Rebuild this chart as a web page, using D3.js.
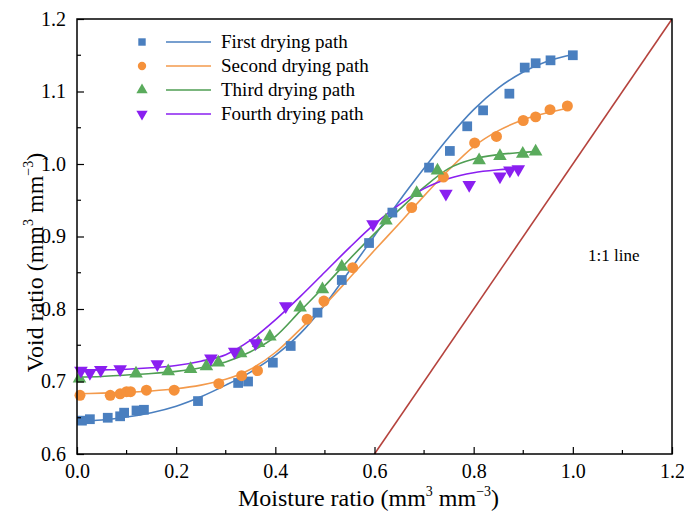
<!DOCTYPE html>
<html>
<head>
    <meta charset="utf-8">
    <title>Void ratio vs moisture ratio</title>
    <script src="https://d3js.org/d3.v7.min.js"></script>
    <style>
        body { margin: 0; background: #fff; }
        text { font-family: "Liberation Serif", "Times New Roman", serif; fill: #000; }
    </style>
</head>
<body>
    <div id="chart"></div>

    <script>
        var firstX  = [0.010, 0.026, 0.062, 0.087, 0.095, 0.120, 0.135, 0.244, 0.325, 0.345, 0.395, 0.431, 0.485, 0.534, 0.589, 0.636, 0.710, 0.752, 0.787, 0.819, 0.872, 0.903, 0.925, 0.955, 1.000];
        var firstY  = [0.646, 0.648, 0.650, 0.652, 0.657, 0.660, 0.661, 0.673, 0.698, 0.700, 0.726, 0.749, 0.795, 0.840, 0.891, 0.933, 0.995, 1.018, 1.052, 1.074, 1.097, 1.133, 1.139, 1.143, 1.150];
        var secondX = [0.006, 0.067, 0.087, 0.100, 0.108, 0.140, 0.196, 0.286, 0.332, 0.364, 0.464, 0.498, 0.556, 0.675, 0.739, 0.802, 0.846, 0.900, 0.925, 0.954, 0.989];
        var secondY = [0.681, 0.681, 0.683, 0.686, 0.686, 0.688, 0.688, 0.697, 0.708, 0.715, 0.786, 0.811, 0.857, 0.940, 0.982, 1.029, 1.038, 1.060, 1.065, 1.075, 1.080];
        var thirdX  = [0.005, 0.119, 0.184, 0.229, 0.261, 0.285, 0.330, 0.366, 0.389, 0.450, 0.495, 0.534, 0.623, 0.685, 0.727, 0.811, 0.853, 0.899, 0.925];
        var thirdY  = [0.704, 0.711, 0.714, 0.717, 0.721, 0.726, 0.739, 0.753, 0.762, 0.802, 0.827, 0.858, 0.922, 0.960, 0.991, 1.005, 1.011, 1.014, 1.017];
        var fourthX = [0.008, 0.026, 0.048, 0.087, 0.162, 0.270, 0.318, 0.360, 0.421, 0.597, 0.744, 0.791, 0.853, 0.873, 0.890];
        var fourthY = [0.715, 0.712, 0.716, 0.717, 0.724, 0.732, 0.741, 0.753, 0.804, 0.917, 0.959, 0.971, 0.983, 0.991, 0.993];

        // fitted curves
        var firstFitX  = [0, 0.05, 0.1, 0.15, 0.2, 0.25, 0.3, 0.35, 0.4, 0.45, 0.5, 0.55, 0.6, 0.65, 0.7, 0.75, 0.8, 0.85, 0.9, 0.95, 1.0];
        var firstFitY  = [0.645, 0.647, 0.651, 0.657, 0.666, 0.679, 0.695, 0.713, 0.736, 0.766, 0.806, 0.853, 0.901, 0.949, 0.994, 1.037, 1.075, 1.105, 1.127, 1.142, 1.151];
        var secondFitX = [0, 0.05, 0.1, 0.15, 0.2, 0.25, 0.3, 0.35, 0.4, 0.45, 0.5, 0.55, 0.6, 0.65, 0.7, 0.75, 0.8, 0.85, 0.9, 0.95, 0.99];
        var secondFitY = [0.683, 0.684, 0.685, 0.687, 0.690, 0.695, 0.703, 0.717, 0.740, 0.772, 0.806, 0.843, 0.881, 0.918, 0.956, 0.992, 1.024, 1.046, 1.061, 1.071, 1.077];
        var thirdFitX  = [0, 0.05, 0.1, 0.15, 0.2, 0.25, 0.3, 0.35, 0.4, 0.45, 0.5, 0.55, 0.6, 0.65, 0.7, 0.75, 0.8, 0.85, 0.9, 0.92];
        var thirdFitY  = [0.706, 0.707, 0.709, 0.711, 0.714, 0.719, 0.727, 0.741, 0.762, 0.797, 0.832, 0.869, 0.904, 0.937, 0.968, 0.994, 1.007, 1.013, 1.016, 1.017];
        var fourthFitX = [0, 0.05, 0.1, 0.15, 0.2, 0.25, 0.3, 0.35, 0.4, 0.45, 0.5, 0.55, 0.6, 0.65, 0.7, 0.75, 0.8, 0.85, 0.89];
        var fourthFitY = [0.715, 0.716, 0.717, 0.719, 0.722, 0.728, 0.737, 0.757, 0.785, 0.817, 0.851, 0.885, 0.917, 0.944, 0.966, 0.980, 0.988, 0.992, 0.994];

        var oneToOne = [0.6, 1.2];
        var xTicks = [0, 0.2, 0.4, 0.6, 0.8, 1.0, 1.2];
        var yTicks = [0.6, 0.7, 0.8, 0.9, 1.0, 1.1, 1.2];
        var names = ["First drying path", "Second drying path", "Third drying path", "Fourth drying path"];

        var series = [
            { name: names[0], x: firstX,  y: firstY,  fx: firstFitX,  fy: firstFitY,  color: "#4a7fbf", line: "#4a7fbf", sym: d3.symbolSquare,   rot: 0 },
            { name: names[1], x: secondX, y: secondY, fx: secondFitX, fy: secondFitY, color: "#f5913b", line: "#f39a4c", sym: d3.symbolCircle,   rot: 0 },
            { name: names[2], x: thirdX,  y: thirdY,  fx: thirdFitX,  fy: thirdFitY,  color: "#5aab5c", line: "#4f9e53", sym: d3.symbolTriangle, rot: 0 },
            { name: names[3], x: fourthX, y: fourthY, fx: fourthFitX, fy: fourthFitY, color: "#8a1ff0", line: "#8a1ff0", sym: d3.symbolTriangle, rot: 180 }
        ];

        var width = 684, height = 518;
        var plotLeft = 77, plotTop = 19, plotRight = 672, plotBottom = 454;

        var svg = d3.select("#chart").append("svg")
            .attr("width", width)
            .attr("height", height);

        var x = d3.scaleLinear().domain([0, 1.2]).range([plotLeft, plotRight]);
        var y = d3.scaleLinear().domain([0.6, 1.2]).range([plotBottom, plotTop]);

        svg.append("clipPath").attr("id", "plot")
            .append("rect")
            .attr("x", plotLeft).attr("y", plotTop)
            .attr("width", plotRight - plotLeft).attr("height", plotBottom - plotTop);

        var plot = svg.append("g").attr("clip-path", "url(#plot)");

        // 1:1 line
        plot.append("line")
            .attr("x1", x(oneToOne[0])).attr("y1", y(oneToOne[0]))
            .attr("x2", x(oneToOne[1])).attr("y2", y(oneToOne[1]))
            .attr("stroke", "#b5433d")
            .attr("stroke-width", 1.6);

        svg.append("text")
            .attr("x", 588).attr("y", 261)
            .attr("font-size", 17)
            .text("1:1 line");

        var line = d3.line()
            .x(function(d) { return x(d[0]); })
            .y(function(d) { return y(d[1]); })
            .curve(d3.curveMonotoneX);

        series.forEach(function(s) {
            plot.append("path")
                .datum(d3.zip(s.fx, s.fy))
                .attr("d", line)
                .attr("fill", "none")
                .attr("stroke", s.line)
                .attr("stroke-width", 1.6);
        });

        series.forEach(function(s) {
            var size = s.sym === d3.symbolTriangle ? 80 : 95;
            svg.append("g").selectAll("path")
                .data(d3.zip(s.x, s.y))
                .enter()
                .append("path")
                .attr("d", d3.symbol().type(s.sym).size(size))
                .attr("transform", function(d) {
                    return "translate(" + x(d[0]) + "," + y(d[1]) + ") rotate(" + s.rot + ")";
                })
                .attr("fill", s.color);
        });

        // axes: ticks point inward
        var xAxis = d3.axisBottom(x).tickValues(xTicks).tickSize(-7).tickPadding(10)
            .tickFormat(d3.format(".1f"));
        var yAxis = d3.axisLeft(y).tickValues(yTicks).tickSize(-7).tickPadding(11)
            .tickFormat(d3.format(".1f"));

        var gx = svg.append("g").attr("transform", "translate(0," + plotBottom + ")").call(xAxis);
        var gy = svg.append("g").attr("transform", "translate(" + plotLeft + ",0)").call(yAxis);

        // minor ticks
        svg.append("g").selectAll("line")
            .data(d3.range(0.1, 1.2, 0.2))
            .enter().append("line")
            .attr("x1", function(d) { return x(d); }).attr("x2", function(d) { return x(d); })
            .attr("y1", plotBottom).attr("y2", plotBottom - 4)
            .attr("stroke", "#000").attr("stroke-width", 1.2);
        svg.append("g").selectAll("line")
            .data(d3.range(0.65, 1.2, 0.1))
            .enter().append("line")
            .attr("x1", plotLeft).attr("x2", plotLeft + 4)
            .attr("y1", function(d) { return y(d); }).attr("y2", function(d) { return y(d); })
            .attr("stroke", "#000").attr("stroke-width", 1.2);

        [gx, gy].forEach(function(g) {
            g.select(".domain").remove();
            g.selectAll(".tick line").attr("stroke", "#000").attr("stroke-width", 1.2);
            g.selectAll(".tick text")
                .attr("font-family", "Liberation Serif, serif")
                .attr("font-size", 20)
                .attr("fill", "#000");
        });

        svg.append("rect")
            .attr("x", plotLeft).attr("y", plotTop)
            .attr("width", plotRight - plotLeft).attr("height", plotBottom - plotTop)
            .attr("fill", "none")
            .attr("stroke", "#000")
            .attr("stroke-width", 1.5);

        // axis titles
        var xt = svg.append("text")
            .attr("x", (plotLeft + plotRight) / 2 - 6).attr("y", 506)
            .attr("text-anchor", "middle")
            .attr("font-size", 24);
        xt.append("tspan").text("Moisture ratio (mm");
        xt.append("tspan").attr("font-size", 14).attr("dy", -10).text("3");
        xt.append("tspan").attr("dy", 10).text(" mm");
        xt.append("tspan").attr("font-size", 14).attr("dy", -10).text("\u22123");
        xt.append("tspan").attr("dy", 10).text(")");

        var yt = svg.append("text")
            .attr("transform", "translate(43," + ((plotTop + plotBottom) / 2 + 26) + ") rotate(-90)")
            .attr("text-anchor", "middle")
            .attr("font-size", 24);
        yt.append("tspan").text("Void ratio (mm");
        yt.append("tspan").attr("font-size", 14).attr("dy", -10).text("3");
        yt.append("tspan").attr("dy", 10).text(" mm");
        yt.append("tspan").attr("font-size", 14).attr("dy", -10).text("\u22123");
        yt.append("tspan").attr("dy", 10).text(")");

        // legend
        var legend = svg.append("g").selectAll("g")
            .data(series)
            .enter().append("g")
            .attr("transform", function(d, i) { return "translate(0," + (42 + i * 24) + ")"; });

        legend.append("path")
            .attr("d", function(d) { return d3.symbol().type(d.sym).size(55)(); })
            .attr("transform", function(d) { return "translate(142,0) rotate(" + d.rot + ")"; })
            .attr("fill", function(d) { return d.color; });
        legend.append("line")
            .attr("x1", 166).attr("x2", 211)
            .attr("stroke", function(d) { return d.line; })
            .attr("stroke-width", 1.6);
        legend.append("text")
            .attr("x", 221).attr("y", 6)
            .attr("font-size", 19)
            .text(function(d) { return d.name; });
    </script>
</body>
</html>
